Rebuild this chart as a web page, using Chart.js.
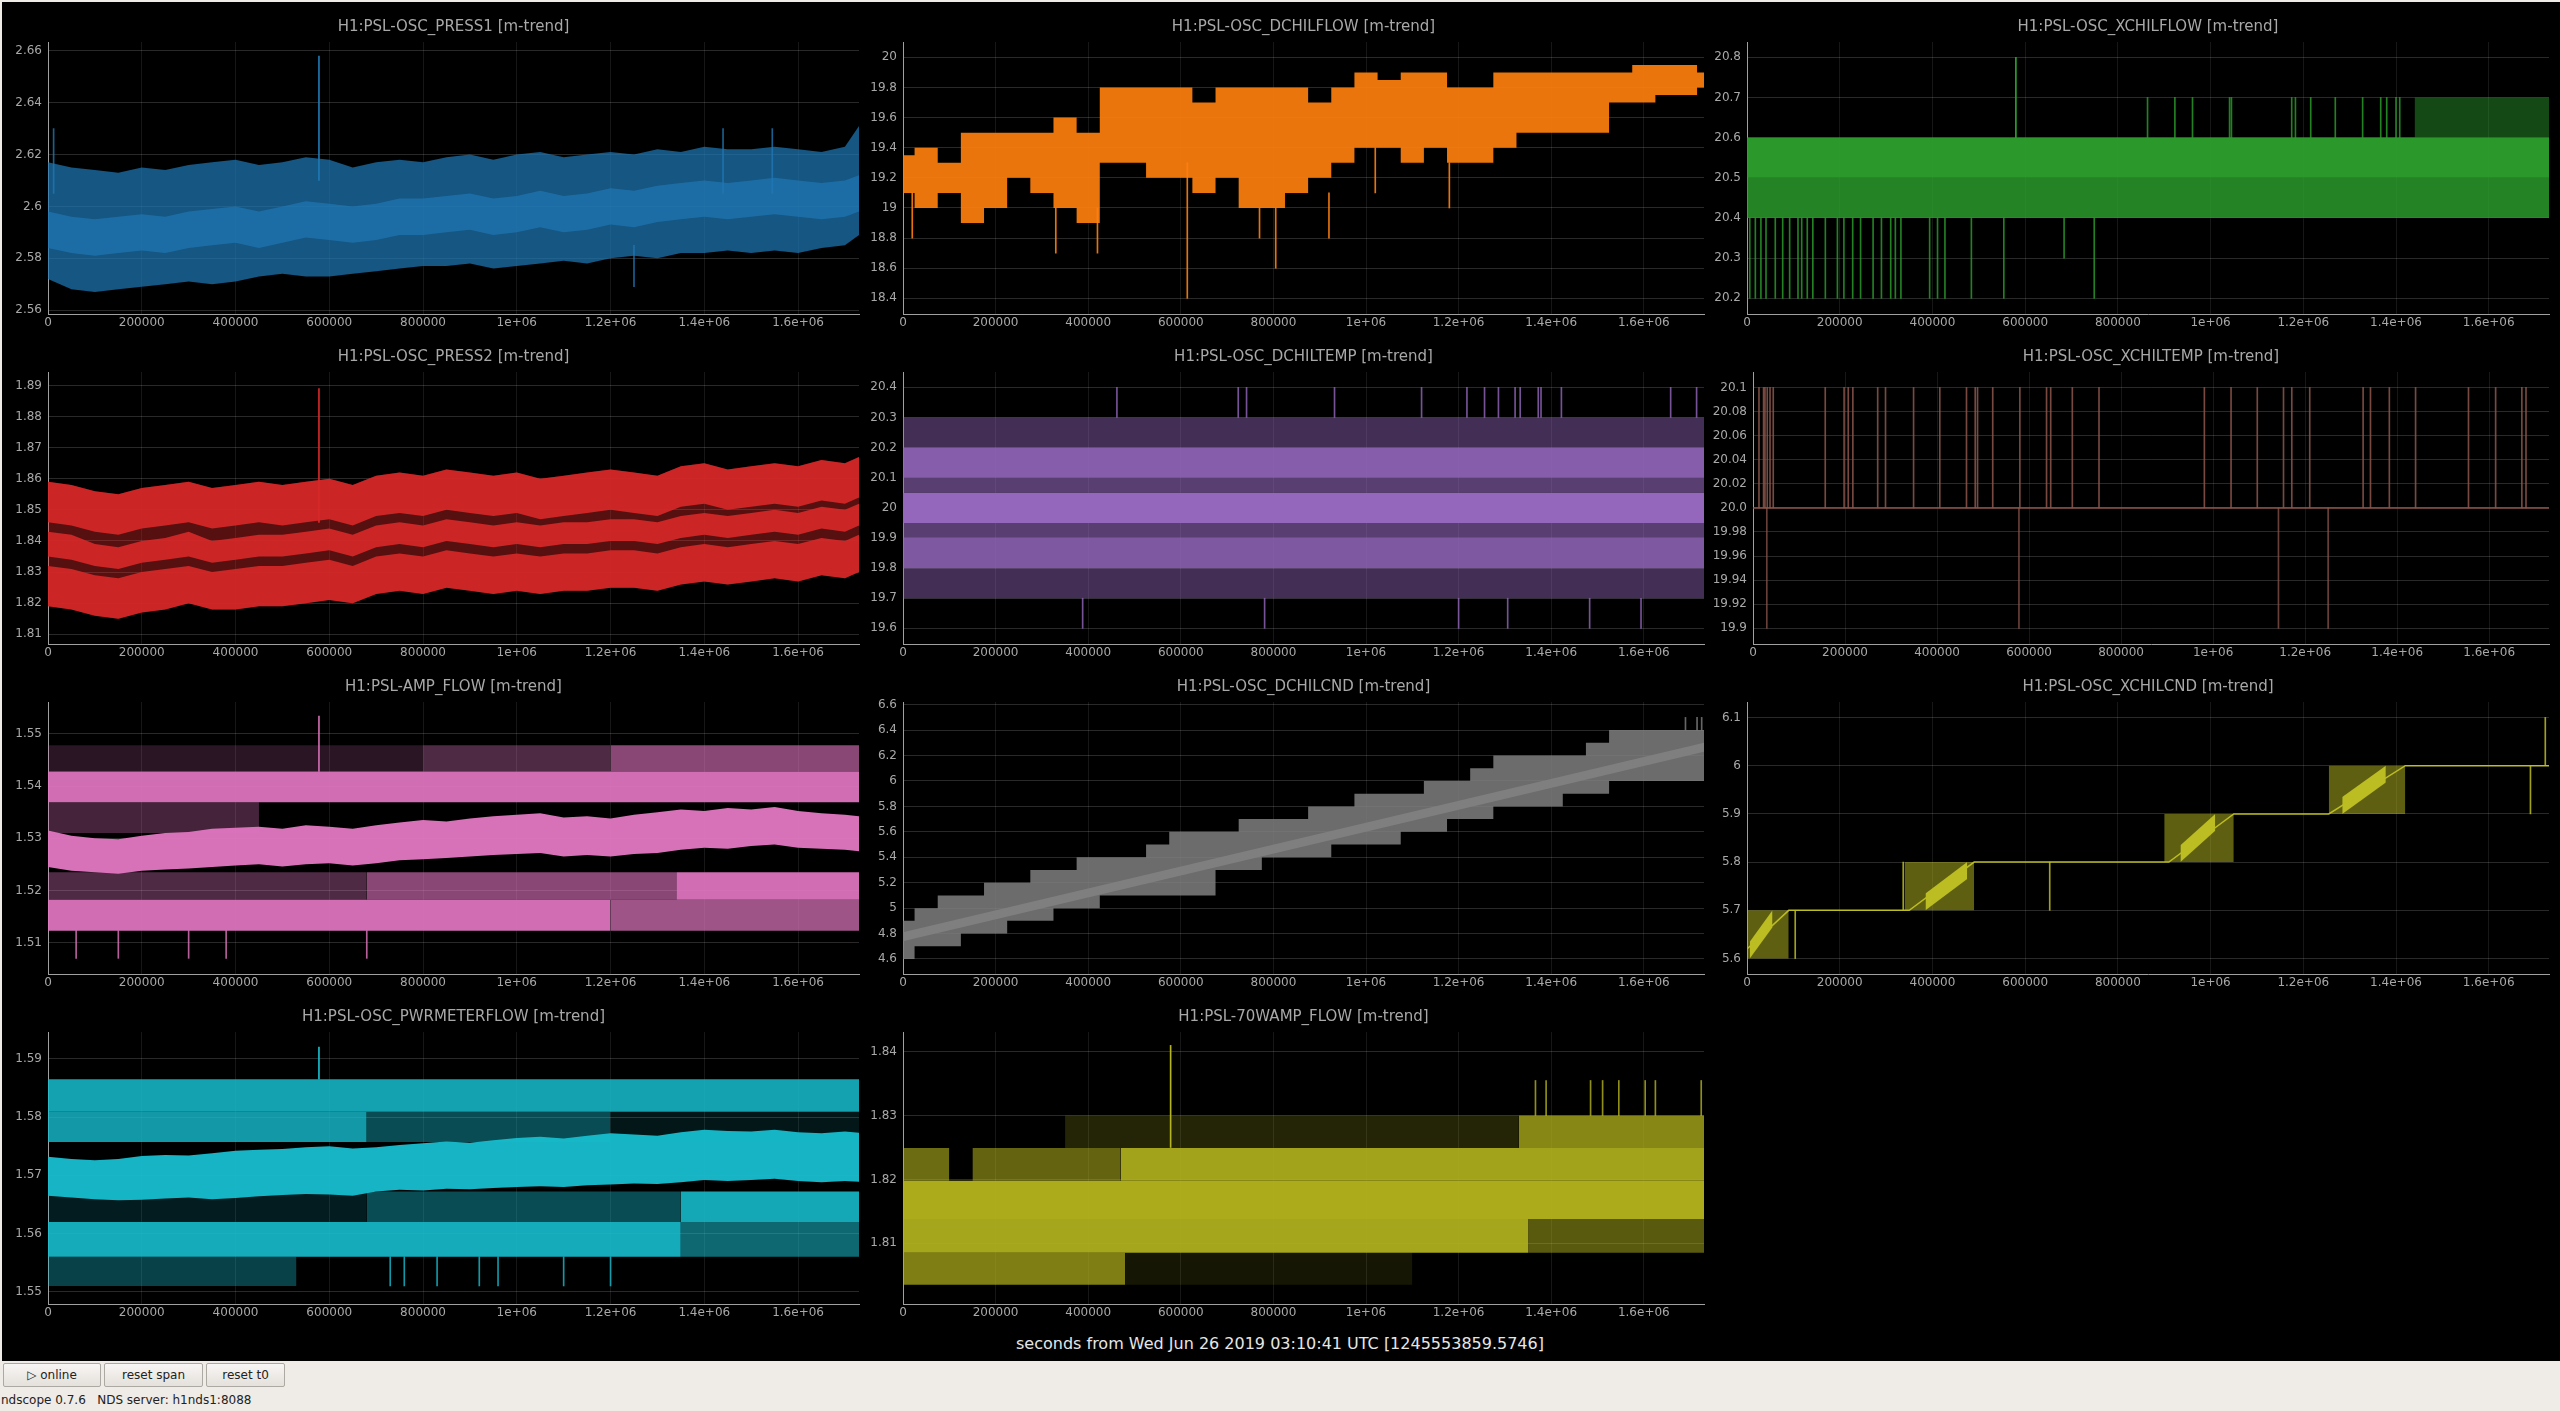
<!DOCTYPE html>
<html>
<head>
<meta charset="utf-8">
<script src="https://cdn.jsdelivr.net/npm/chart.js@4.4.1/dist/chart.umd.min.js"></script>
<style>
html, body { margin: 0; padding: 0; width: 2560px; height: 1411px; overflow: hidden; background: #efebe7; font-family: 'DejaVu Sans', sans-serif; }
#scope { position: absolute; left: 2px; top: 2px; width: 2558px; height: 1359px; background: #000; }
canvas { position: absolute; }
#xlabel { position: absolute; left: 0; top: 1334px; width: 2560px; text-align: center; color: #e6e6e6; font-size: 16px; line-height: 20px; }
.btn { position: absolute; top: 1363px; height: 22px; border: 1px solid #aca8a2; border-radius: 2px; background: linear-gradient(#f8f6f4, #e4e0db); font-size: 12px; line-height: 22px; text-align: center; color: #222; }
#status { position: absolute; left: 1px; top: 1393px; font-size: 12px; color: #222; }
</style>
</head>
<body>
<div id="scope"></div>
<div id="xlabel">seconds from Wed Jun 26 2019 03:10:41 UTC [1245553859.5746]</div>
<div class="btn" style="left:3px;width:96px;">&#9655; online</div>
<div class="btn" style="left:104px;width:97px;">reset span</div>
<div class="btn" style="left:206px;width:77px;">reset t0</div>
<div id="status">ndscope 0.7.6&nbsp;&nbsp;&nbsp;NDS server: h1nds1:8088</div>
<script>
// ---- data ----
const TIMES = [0, 50000, 100000, 150000, 200000, 250000, 300000, 350000, 400000, 450000, 500000, 550000, 600000, 650000, 700000, 750000, 800000, 850000, 900000, 950000, 1000000, 1050000, 1100000, 1150000, 1200000, 1250000, 1300000, 1350000, 1400000, 1450000, 1500000, 1550000, 1600000, 1650000, 1700000, 1730000];
const EDGE = [0, 1730000];
const X_TICKS = [0, 200000, 400000, 600000, 800000, 1000000, 1200000, 1400000, 1600000];
const X_LABELS = ['0', '200000', '400000', '600000', '800000', '1e+06', '1.2e+06', '1.4e+06', '1.6e+06'];

// PRESS1
const PRESS1_HI = [2.617, 2.615, 2.614, 2.613, 2.615, 2.614, 2.616, 2.617, 2.618, 2.616, 2.617, 2.619, 2.618, 2.615, 2.617, 2.618, 2.617, 2.619, 2.62, 2.618, 2.62, 2.621, 2.619, 2.62, 2.621, 2.62, 2.622, 2.621, 2.623, 2.622, 2.622, 2.623, 2.622, 2.621, 2.623, 2.631];
const PRESS1_LO = [2.572, 2.568, 2.567, 2.568, 2.569, 2.57, 2.571, 2.57, 2.571, 2.573, 2.574, 2.573, 2.573, 2.574, 2.575, 2.576, 2.577, 2.577, 2.578, 2.576, 2.577, 2.578, 2.579, 2.578, 2.58, 2.581, 2.58, 2.582, 2.582, 2.583, 2.582, 2.583, 2.582, 2.584, 2.585, 2.589];
const PRESS1_CORE_HI = [2.598, 2.596, 2.595, 2.596, 2.597, 2.596, 2.598, 2.599, 2.6, 2.598, 2.6, 2.602, 2.601, 2.6, 2.601, 2.603, 2.603, 2.604, 2.605, 2.603, 2.604, 2.606, 2.604, 2.605, 2.607, 2.606, 2.608, 2.609, 2.61, 2.609, 2.61, 2.611, 2.61, 2.609, 2.61, 2.612];
const PRESS1_CORE_LO = [2.584, 2.582, 2.581, 2.582, 2.583, 2.582, 2.584, 2.585, 2.586, 2.584, 2.586, 2.588, 2.587, 2.586, 2.587, 2.589, 2.589, 2.59, 2.591, 2.589, 2.59, 2.592, 2.59, 2.591, 2.593, 2.592, 2.594, 2.595, 2.596, 2.595, 2.596, 2.597, 2.596, 2.595, 2.596, 2.598];
const PRESS1_SPIKE_BIG = [578000];
const PRESS1_SPIKE_BIG_RANGE = [2.61, 2.658];
const PRESS1_SPIKE_UP = [12000, 1440000, 1545000];
const PRESS1_SPIKE_UP_RANGE = [2.605, 2.63];
const PRESS1_SPIKE_DN = [1250000];
const PRESS1_SPIKE_DN_RANGE = [2.569, 2.585];
const PRESS1_YT = [2.56, 2.58, 2.6, 2.62, 2.64, 2.66];
const PRESS1_YL = ['2.56', '2.58', '2.6', '2.62', '2.64', '2.66'];

// DCHILFLOW
const DCF_HI = [19.35, 19.4, 19.3, 19.5, 19.5, 19.5, 19.5, 19.6, 19.5, 19.8, 19.8, 19.8, 19.8, 19.7, 19.8, 19.8, 19.8, 19.8, 19.7, 19.8, 19.9, 19.85, 19.9, 19.9, 19.8, 19.8, 19.9, 19.9, 19.9, 19.9, 19.9, 19.9, 19.95, 19.95, 19.95, 19.9];
const DCF_LO = [19.1, 19.0, 19.1, 18.9, 19.0, 19.2, 19.1, 19.0, 18.9, 19.3, 19.3, 19.2, 19.2, 19.1, 19.2, 19.0, 19.0, 19.1, 19.2, 19.3, 19.4, 19.4, 19.3, 19.4, 19.3, 19.3, 19.4, 19.5, 19.5, 19.5, 19.5, 19.7, 19.7, 19.75, 19.75, 19.8];
const DCF_SPIKES = [20000, 330000, 420000, 614000, 770000, 805000, 920000, 1020000, 1180000];
const DCF_SPIKE_LO = [18.8, 18.7, 18.7, 18.4, 18.8, 18.6, 18.8, 19.1, 19.0];
const DCF_SPIKE_HI = [19.1, 19.0, 19.0, 19.3, 19.0, 19.0, 19.1, 19.4, 19.3];
const DCF_YT = [18.4, 18.6, 18.8, 19, 19.2, 19.4, 19.6, 19.8, 20];
const DCF_YL = ['18.4', '18.6', '18.8', '19', '19.2', '19.4', '19.6', '19.8', '20'];

// XCHILFLOW
const XCF_BLOCKS = [[0, 1730000, 20.5, 20.6], [0, 1730000, 20.4, 20.5], [1440000, 1730000, 20.6, 20.7]];
const XCF_LOW_SPIKES = [6000, 18000, 30000, 41000, 61000, 77000, 92000, 110000, 118000, 130000, 142000, 169000, 195000, 209000, 228000, 245000, 272000, 290000, 310000, 320000, 332000, 394000, 411000, 427000, 484000, 554000, 749000];
const XCF_LOW_RANGE = [20.2, 20.4];
const XCF_MID_SPIKES = [684000];
const XCF_MID_RANGE = [20.3, 20.4];
const XCF_HIGH_SPIKES = [864000, 923000, 961000, 1041000, 1045000, 1175000, 1183000, 1216000, 1269000, 1328000, 1367000, 1380000, 1400000, 1408000];
const XCF_HIGH_RANGE = [20.6, 20.7];
const XCF_TOP_SPIKES = [580000];
const XCF_TOP_RANGE = [20.6, 20.8];
const XCF_YT = [20.2, 20.3, 20.4, 20.5, 20.6, 20.7, 20.8];
const XCF_YL = ['20.2', '20.3', '20.4', '20.5', '20.6', '20.7', '20.8'];

// PRESS2
const PRESS2_UP_HI = [1.859, 1.858, 1.856, 1.855, 1.857, 1.858, 1.859, 1.857, 1.858, 1.859, 1.858, 1.859, 1.86, 1.858, 1.861, 1.862, 1.861, 1.863, 1.862, 1.861, 1.862, 1.86, 1.861, 1.862, 1.863, 1.862, 1.861, 1.864, 1.865, 1.863, 1.864, 1.865, 1.864, 1.866, 1.865, 1.867];
const PRESS2_UP_LO = [1.846, 1.845, 1.843, 1.842, 1.844, 1.845, 1.846, 1.844, 1.845, 1.846, 1.845, 1.846, 1.847, 1.845, 1.848, 1.849, 1.848, 1.85, 1.849, 1.848, 1.849, 1.847, 1.848, 1.849, 1.85, 1.849, 1.848, 1.851, 1.852, 1.85, 1.851, 1.852, 1.851, 1.853, 1.852, 1.854];
const PRESS2_MID_HI = [1.843, 1.842, 1.839, 1.838, 1.84, 1.841, 1.843, 1.84, 1.841, 1.842, 1.842, 1.843, 1.844, 1.842, 1.845, 1.846, 1.845, 1.847, 1.846, 1.845, 1.846, 1.845, 1.846, 1.846, 1.847, 1.847, 1.846, 1.848, 1.849, 1.848, 1.849, 1.85, 1.849, 1.851, 1.85, 1.852];
const PRESS2_MID_LO = [1.835, 1.834, 1.832, 1.831, 1.833, 1.834, 1.835, 1.833, 1.834, 1.835, 1.835, 1.836, 1.837, 1.835, 1.838, 1.839, 1.838, 1.84, 1.839, 1.838, 1.839, 1.838, 1.839, 1.839, 1.84, 1.84, 1.839, 1.841, 1.842, 1.841, 1.842, 1.843, 1.842, 1.844, 1.843, 1.845];
const PRESS2_LOW_HI = [1.832, 1.831, 1.829, 1.828, 1.83, 1.831, 1.832, 1.83, 1.831, 1.832, 1.832, 1.833, 1.834, 1.832, 1.835, 1.836, 1.835, 1.837, 1.836, 1.835, 1.836, 1.835, 1.836, 1.836, 1.837, 1.837, 1.836, 1.838, 1.839, 1.838, 1.839, 1.84, 1.839, 1.841, 1.84, 1.842];
const PRESS2_LOW_LO = [1.819, 1.818, 1.816, 1.815, 1.817, 1.818, 1.82, 1.818, 1.818, 1.819, 1.819, 1.82, 1.821, 1.82, 1.823, 1.824, 1.823, 1.825, 1.824, 1.823, 1.824, 1.823, 1.824, 1.824, 1.825, 1.825, 1.824, 1.826, 1.827, 1.826, 1.827, 1.828, 1.827, 1.829, 1.828, 1.83];
const PRESS2_SPIKES = [578000];
const PRESS2_SPIKE_RANGE = [1.846, 1.889];
const PRESS2_YT = [1.81, 1.82, 1.83, 1.84, 1.85, 1.86, 1.87, 1.88, 1.89];
const PRESS2_YL = ['1.81', '1.82', '1.83', '1.84', '1.85', '1.86', '1.87', '1.88', '1.89'];

// DCHILTEMP
const DCT_BLOCKS = [[0, 1730000, 20.2, 20.3], [0, 1730000, 20.1, 20.2], [0, 1730000, 20.05, 20.1], [0, 1730000, 19.95, 20.05], [0, 1730000, 19.9, 19.95], [0, 1730000, 19.8, 19.9], [0, 1730000, 19.7, 19.8]];
const DCT_UP_SPIKES = [462000, 724000, 742000, 932000, 1120000, 1218000, 1256000, 1286000, 1322000, 1333000, 1372000, 1378000, 1422000, 1658000, 1714000];
const DCT_UP_RANGE = [20.3, 20.4];
const DCT_DN_SPIKES = [388000, 781000, 1200000, 1306000, 1483000, 1594000];
const DCT_DN_RANGE = [19.6, 19.7];
const DCT_YT = [19.6, 19.7, 19.8, 19.9, 20, 20.1, 20.2, 20.3, 20.4];
const DCT_YL = ['19.6', '19.7', '19.8', '19.9', '20', '20.1', '20.2', '20.3', '20.4'];

// XCHILTEMP
const XCT_BASE = [20.0, 20.0];
const XCT_UP_SPIKES = [13000, 23000, 26000, 31000, 37000, 44000, 157000, 198000, 207000, 217000, 271000, 288000, 349000, 406000, 464000, 483000, 488000, 521000, 580000, 638000, 647000, 694000, 752000, 981000, 1039000, 1096000, 1153000, 1171000, 1210000, 1326000, 1342000, 1383000, 1440000, 1555000, 1614000, 1671000, 1680000];
const XCT_UP_RANGE = [20.0, 20.1];
const XCT_DN_SPIKES = [30000, 578000, 1142000, 1250000];
const XCT_DN_RANGE = [19.9, 20.0];
const XCT_YT = [19.9, 19.92, 19.94, 19.96, 19.98, 20.0, 20.02, 20.04, 20.06, 20.08, 20.1];
const XCT_YL = ['19.9', '19.92', '19.94', '19.96', '19.98', '20.0', '20.02', '20.04', '20.06', '20.08', '20.1'];

// AMP_FLOW
const AMP_HI = [1.5315, 1.5305, 1.53, 1.5298, 1.5305, 1.531, 1.5312, 1.5318, 1.532, 1.5322, 1.5318, 1.5325, 1.5322, 1.5318, 1.5325, 1.533, 1.5335, 1.5332, 1.5338, 1.5342, 1.5345, 1.5348, 1.534, 1.5342, 1.5338, 1.5345, 1.535, 1.5355, 1.5352, 1.5358, 1.5355, 1.536, 1.5352, 1.5348, 1.5345, 1.5342];
const AMP_LO = [1.5245, 1.5238, 1.5235, 1.5232, 1.5238, 1.524, 1.5242, 1.5245, 1.5248, 1.525, 1.5246, 1.525, 1.5252, 1.5248, 1.5252, 1.5258, 1.526, 1.5262, 1.5265, 1.5268, 1.527, 1.5272, 1.5265, 1.5268, 1.5265, 1.527, 1.5272, 1.5278, 1.5282, 1.528, 1.5285, 1.5288, 1.5282, 1.528, 1.5278, 1.5275];
const AMP_BLOCKS = [[0, 1730000, 1.5369, 1.5428], [0, 800000, 1.5428, 1.5478], [800000, 1200000, 1.5428, 1.5478], [1200000, 1730000, 1.5428, 1.5478], [0, 450000, 1.531, 1.5369], [0, 680000, 1.5182, 1.5235], [680000, 1340000, 1.5182, 1.5235], [1340000, 1730000, 1.5182, 1.5235], [0, 1200000, 1.5123, 1.5182], [1200000, 1730000, 1.5123, 1.5182]];
const AMP_DN_SPIKES = [60000, 150000, 300000, 380000, 680000];
const AMP_DN_RANGE = [1.507, 1.5123];
const AMP_UP_SPIKES = [578000];
const AMP_UP_RANGE = [1.5428, 1.5534];
const AMP_YT = [1.51, 1.52, 1.53, 1.54, 1.55];
const AMP_YL = ['1.51', '1.52', '1.53', '1.54', '1.55'];

// DCHILCND
const DCC_UP = [4.9, 5.0, 5.1, 5.1, 5.2, 5.2, 5.3, 5.3, 5.4, 5.4, 5.4, 5.5, 5.6, 5.6, 5.6, 5.7, 5.7, 5.7, 5.8, 5.8, 5.9, 5.9, 5.9, 6.0, 6.0, 6.1, 6.2, 6.2, 6.2, 6.2, 6.3, 6.4, 6.4, 6.4, 6.4, 6.4];
const DCC_DOWN = [4.6, 4.7, 4.7, 4.8, 4.8, 4.9, 4.9, 5.0, 5.0, 5.1, 5.1, 5.1, 5.1, 5.1, 5.3, 5.3, 5.4, 5.4, 5.4, 5.5, 5.5, 5.5, 5.6, 5.6, 5.7, 5.7, 5.8, 5.8, 5.8, 5.9, 5.9, 6.0, 6.0, 6.0, 6.0, 6.0];
const DCC_MEAN_HI = [4.81, 6.3];
const DCC_MEAN_LO = [4.74, 6.23];
const DCC_SPIKES = [1690000, 1715000, 1725000];
const DCC_SPIKE_RANGE = [6.4, 6.5];
const DCC_YT = [4.6, 4.8, 5, 5.2, 5.4, 5.6, 5.8, 6, 6.2, 6.4, 6.6];
const DCC_YL = ['4.6', '4.8', '5', '5.2', '5.4', '5.6', '5.8', '6', '6.2', '6.4', '6.6'];

// XCHILCND
const XCC_LEVEL_X = [0, 90000, 350000, 490000, 910000, 1050000, 1255000, 1420000, 1730000];
const XCC_LEVEL_Y = [5.62, 5.7, 5.7, 5.8, 5.8, 5.9, 5.9, 6.0, 6.0];
const XCC_BLOCKS = [[0, 90000, 5.6, 5.7], [340000, 490000, 5.7, 5.8], [900000, 1050000, 5.8, 5.9], [1255000, 1420000, 5.9, 6.0]];
const XCC_RAMPS = [[6000, 55000, 5.6, 5.7], [385000, 475000, 5.7, 5.8], [935000, 1010000, 5.8, 5.9], [1284000, 1378000, 5.9, 6.0]];
const XCC_SPIKES = [104000, 337000, 653000, 1690000, 1722000];
const XCC_SPIKE_LO = [5.6, 5.7, 5.7, 5.9, 6.0];
const XCC_SPIKE_HI = [5.7, 5.8, 5.8, 6.0, 6.1];
const XCC_YT = [5.6, 5.7, 5.8, 5.9, 6, 6.1];
const XCC_YL = ['5.6', '5.7', '5.8', '5.9', '6', '6.1'];

// PWRMETERFLOW
const PWR_HI = [1.5732, 1.5728, 1.5726, 1.5728, 1.5733, 1.5735, 1.5734, 1.5738, 1.5742, 1.5744, 1.5745, 1.5748, 1.575, 1.5746, 1.5748, 1.5752, 1.5755, 1.5758, 1.5756, 1.576, 1.5764, 1.5766, 1.5763, 1.5768, 1.5772, 1.577, 1.5768, 1.5774, 1.5778, 1.5776, 1.5775, 1.5778, 1.5774, 1.5772, 1.5775, 1.5773];
const PWR_LO = [1.5665, 1.5662, 1.5659, 1.5657, 1.5658, 1.566, 1.5662, 1.5659, 1.5661, 1.5664, 1.5666, 1.5668, 1.5667, 1.5665, 1.5672, 1.5675, 1.5674, 1.5677, 1.5676, 1.5678, 1.568, 1.5681, 1.568, 1.5683, 1.5684, 1.5686, 1.5685, 1.5688, 1.5692, 1.569, 1.5692, 1.5694, 1.569, 1.5688, 1.569, 1.5689];
const PWR_BLOCKS = [[0, 1730000, 1.5809, 1.5865], [0, 680000, 1.5757, 1.5809], [680000, 1200000, 1.5757, 1.5809], [1200000, 1730000, 1.5757, 1.5809], [0, 680000, 1.562, 1.5672], [680000, 1350000, 1.562, 1.5672], [1350000, 1730000, 1.562, 1.5672], [0, 1350000, 1.556, 1.562], [1350000, 1730000, 1.556, 1.562], [0, 530000, 1.551, 1.556]];
const PWR_UP_SPIKES = [578000];
const PWR_UP_RANGE = [1.5865, 1.592];
const PWR_DN_SPIKES = [730000, 760000, 830000, 920000, 960000, 1100000, 1200000];
const PWR_DN_RANGE = [1.551, 1.556];
const PWR_YT = [1.55, 1.56, 1.57, 1.58, 1.59];
const PWR_YL = ['1.55', '1.56', '1.57', '1.58', '1.59'];

// 70WAMP_FLOW
const W70_BLOCKS = [[350000, 1330000, 1.8249, 1.83], [1330000, 1730000, 1.8249, 1.83], [0, 100000, 1.8198, 1.8249], [150000, 470000, 1.8198, 1.8249], [470000, 1730000, 1.8198, 1.8249], [0, 1730000, 1.8138, 1.8198], [0, 1350000, 1.8085, 1.8138], [1350000, 1730000, 1.8085, 1.8138], [0, 480000, 1.8035, 1.8085], [480000, 1100000, 1.8035, 1.8085]];
const W70_BIG_SPIKES = [578000];
const W70_BIG_RANGE = [1.825, 1.841];
const W70_UP_SPIKES = [1366000, 1389000, 1485000, 1511000, 1546000, 1603000, 1625000, 1724000];
const W70_UP_RANGE = [1.83, 1.8355];
const W70_YT = [1.81, 1.82, 1.83, 1.84];
const W70_YL = ['1.81', '1.82', '1.83', '1.84'];

// ---- drawing ----
const TAB = { blue: '#1f77b4', orange: '#ff7f0e', green: '#2ca02c', red: '#d62728', purple: '#9467bd', brown: '#8c564b', pink: '#e377c2', gray: '#7f7f7f', olive: '#bcbd22', cyan: '#17becf', olive2: '#b4b41e' };

function rgba(hex, a) {
  const n = parseInt(hex.slice(1), 16);
  return 'rgba(' + (n >> 16) + ',' + ((n >> 8) & 255) + ',' + (n & 255) + ',' + a + ')';
}
// filled area between an upper and a lower edge
function band(xs, hi, lo, color, a, stepped) {
  const common = { type: 'line', borderColor: 'rgba(0,0,0,0)', backgroundColor: rgba(color, a), borderWidth: 0, pointRadius: 0, tension: 0, stepped: stepped || false };
  return [
    Object.assign({}, common, { data: xs.map((x, i) => ({ x: x, y: hi[i] })), fill: '+1' }),
    Object.assign({}, common, { data: xs.map((x, i) => ({ x: x, y: lo[i] })), fill: false })
  ];
}
function blocks(list, alphas, color) {
  return list.flatMap((b, i) => band([b[0], b[1]], [b[3], b[3]], [b[2], b[2]], color, alphas[i]));
}
function spikes(xs, lo, hi, color, a) {
  return {
    type: 'bar', grouped: false, barThickness: 1, backgroundColor: rgba(color, a),
    data: xs.map((x, i) => ({ x: x, y: [Array.isArray(lo) ? lo[i] : lo, Array.isArray(hi) ? hi[i] : hi] }))
  };
}
function trace(xs, ys, color, w) {
  return { type: 'line', data: xs.map((x, i) => ({ x: x, y: ys[i] })), borderColor: color, borderWidth: w, pointRadius: 0, fill: false, tension: 0 };
}

const RAMP = 0.035;
const PANELS = [
  { title: 'H1:PSL-OSC_PRESS1 [m-trend]', col: 0, row: 0, y: [2.5585, 2.6634], yt: PRESS1_YT, yl: PRESS1_YL,
    sets: () => [
      ...band(TIMES, PRESS1_CORE_HI, PRESS1_CORE_LO, TAB.blue, 0.7),
      ...band(TIMES, PRESS1_HI, PRESS1_LO, TAB.blue, 0.72),
      spikes(PRESS1_SPIKE_BIG, PRESS1_SPIKE_BIG_RANGE[0], PRESS1_SPIKE_BIG_RANGE[1], TAB.blue, 1),
      spikes(PRESS1_SPIKE_UP, PRESS1_SPIKE_UP_RANGE[0], PRESS1_SPIKE_UP_RANGE[1], TAB.blue, 0.8),
      spikes(PRESS1_SPIKE_DN, PRESS1_SPIKE_DN_RANGE[0], PRESS1_SPIKE_DN_RANGE[1], TAB.blue, 0.8)
    ] },
  { title: 'H1:PSL-OSC_DCHILFLOW [m-trend]', col: 1, row: 0, y: [18.296, 20.102], yt: DCF_YT, yl: DCF_YL,
    sets: () => [
      ...band(TIMES, DCF_HI, DCF_LO, TAB.orange, 0.92, 'middle'),
      spikes(DCF_SPIKES, DCF_SPIKE_LO, DCF_SPIKE_HI, TAB.orange, 0.9)
    ] },
  { title: 'H1:PSL-OSC_XCHILFLOW [m-trend]', col: 2, row: 0, y: [20.161, 20.838], yt: XCF_YT, yl: XCF_YL,
    sets: () => [
      ...blocks(XCF_BLOCKS, [0.95, 0.82, 0.45], TAB.green),
      spikes(XCF_LOW_SPIKES, XCF_LOW_RANGE[0], XCF_LOW_RANGE[1], TAB.green, 0.8),
      spikes(XCF_MID_SPIKES, XCF_MID_RANGE[0], XCF_MID_RANGE[1], TAB.green, 0.8),
      spikes(XCF_HIGH_SPIKES, XCF_HIGH_RANGE[0], XCF_HIGH_RANGE[1], TAB.green, 0.8),
      spikes(XCF_TOP_SPIKES, XCF_TOP_RANGE[0], XCF_TOP_RANGE[1], TAB.green, 1)
    ] },
  { title: 'H1:PSL-OSC_PRESS2 [m-trend]', col: 0, row: 1, y: [1.8069, 1.8943], yt: PRESS2_YT, yl: PRESS2_YL,
    sets: () => [
      ...band(TIMES, PRESS2_UP_HI, PRESS2_UP_LO, TAB.red, 0.92),
      ...band(TIMES, PRESS2_MID_HI, PRESS2_MID_LO, TAB.red, 0.92),
      ...band(TIMES, PRESS2_LOW_HI, PRESS2_LOW_LO, TAB.red, 0.92),
      ...band(TIMES, PRESS2_UP_HI, PRESS2_LOW_LO, TAB.red, 0.4),
      spikes(PRESS2_SPIKES, PRESS2_SPIKE_RANGE[0], PRESS2_SPIKE_RANGE[1], TAB.red, 1)
    ] },
  { title: 'H1:PSL-OSC_DCHILTEMP [m-trend]', col: 1, row: 1, y: [19.548, 20.451], yt: DCT_YT, yl: DCT_YL,
    sets: () => [
      ...blocks(DCT_BLOCKS, [0.45, 0.9, 0.6, 1, 0.6, 0.85, 0.45], TAB.purple),
      spikes(DCT_UP_SPIKES, DCT_UP_RANGE[0], DCT_UP_RANGE[1], TAB.purple, 0.8),
      spikes(DCT_DN_SPIKES, DCT_DN_RANGE[0], DCT_DN_RANGE[1], TAB.purple, 0.8)
    ] },
  { title: 'H1:PSL-OSC_XCHILTEMP [m-trend]', col: 2, row: 1, axisW: 46, y: [19.887, 20.1128], yt: XCT_YT, yl: XCT_YL,
    sets: () => [
      trace(EDGE, XCT_BASE, TAB.brown, 1.5),
      spikes(XCT_UP_SPIKES, XCT_UP_RANGE[0], XCT_UP_RANGE[1], TAB.brown, 0.85),
      spikes(XCT_DN_SPIKES, XCT_DN_RANGE[0], XCT_DN_RANGE[1], TAB.brown, 0.75)
    ] },
  { title: 'H1:PSL-AMP_FLOW [m-trend]', col: 0, row: 2, y: [1.504, 1.5561], yt: AMP_YT, yl: AMP_YL,
    sets: () => [
      ...band(TIMES, AMP_HI, AMP_LO, TAB.pink, 0.95),
      ...blocks(AMP_BLOCKS, [0.92, 0.18, 0.35, 0.6, 0.3, 0.35, 0.6, 0.92, 0.92, 0.7], TAB.pink),
      spikes(AMP_DN_SPIKES, AMP_DN_RANGE[0], AMP_DN_RANGE[1], TAB.pink, 0.8),
      spikes(AMP_UP_SPIKES, AMP_UP_RANGE[0], AMP_UP_RANGE[1], TAB.pink, 0.9)
    ] },
  { title: 'H1:PSL-OSC_DCHILCND [m-trend]', col: 1, row: 2, y: [4.482, 6.621], yt: DCC_YT, yl: DCC_YL,
    sets: () => [
      ...band(EDGE, DCC_MEAN_HI, DCC_MEAN_LO, TAB.gray, 1),
      ...band(TIMES, DCC_UP, DCC_DOWN, TAB.gray, 0.85, 'middle'),
      spikes(DCC_SPIKES, DCC_SPIKE_RANGE[0], DCC_SPIKE_RANGE[1], TAB.gray, 0.8)
    ] },
  { title: 'H1:PSL-OSC_XCHILCND [m-trend]', col: 2, row: 2, y: [5.568, 6.132], yt: XCC_YT, yl: XCC_YL,
    sets: () => [
      trace(XCC_LEVEL_X, XCC_LEVEL_Y, TAB.olive, 1.5),
      ...XCC_RAMPS.flatMap(r => band([r[0], r[1]], [r[2] + RAMP, r[3]], [r[2], r[3] - RAMP], TAB.olive, 1)),
      ...blocks(XCC_BLOCKS, [0.5, 0.5, 0.5, 0.5], TAB.olive),
      spikes(XCC_SPIKES, XCC_SPIKE_LO, XCC_SPIKE_HI, TAB.olive, 0.85)
    ] },
  { title: 'H1:PSL-OSC_PWRMETERFLOW [m-trend]', col: 0, row: 3, y: [1.5479, 1.5946], yt: PWR_YT, yl: PWR_YL,
    sets: () => [
      ...band(TIMES, PWR_HI, PWR_LO, TAB.cyan, 0.95),
      ...blocks(PWR_BLOCKS, [0.85, 0.8, 0.4, 0.12, 0.15, 0.4, 0.88, 0.9, 0.55, 0.35], TAB.cyan),
      spikes(PWR_UP_SPIKES, PWR_UP_RANGE[0], PWR_UP_RANGE[1], TAB.cyan, 1),
      spikes(PWR_DN_SPIKES, PWR_DN_RANGE[0], PWR_DN_RANGE[1], TAB.cyan, 0.8)
    ] },
  { title: 'H1:PSL-70WAMP_FLOW [m-trend]', col: 1, row: 3, y: [1.80047, 1.8431], yt: W70_YT, yl: W70_YL,
    sets: () => [
      ...blocks(W70_BLOCKS, [0.2, 0.75, 0.6, 0.55, 0.9, 0.95, 0.92, 0.5, 0.7, 0.12], TAB.olive2),
      spikes(W70_BIG_SPIKES, W70_BIG_RANGE[0], W70_BIG_RANGE[1], TAB.olive2, 1),
      spikes(W70_UP_SPIKES, W70_UP_RANGE[0], W70_UP_RANGE[1], TAB.olive2, 0.8)
    ] }
];

const COLS = [
  { left: 0, width: 862, axisW: 48, pad: 3 },
  { left: 862, width: 845, axisW: 41, pad: 3 },
  { left: 1707, width: 853, axisW: 40, pad: 11 }
];
const ROW_TOP = [0, 330, 660, 990];
const TXT = '#a8a8a8';

Chart.defaults.font.family = "'DejaVu Sans', sans-serif";

PANELS.forEach(p => {
  const col = COLS[p.col];
  const cv = document.createElement('canvas');
  cv.width = col.width;
  cv.height = 330;
  cv.style.left = col.left + 'px';
  cv.style.top = ROW_TOP[p.row] + 'px';
  cv.style.width = col.width + 'px';
  cv.style.height = '330px';
  document.body.appendChild(cv);
  const axisW = p.axisW || col.axisW;
  new Chart(cv, {
    type: 'line',
    data: { datasets: p.sets() },
    options: {
      animation: false,
      responsive: false,
      devicePixelRatio: 1,
      events: [],
      layout: { padding: { left: 0, right: col.pad, top: 0, bottom: 0 } },
      plugins: {
        legend: { display: false },
        tooltip: { enabled: false },
        title: { display: true, text: p.title, color: TXT, fullSize: false,
                 font: { size: 15, weight: 'normal' }, padding: { top: 18, bottom: 6 } }
      },
      scales: {
        x: {
          type: 'linear', min: 0, max: 1730000, offset: false,
          grid: { color: 'rgba(255,255,255,0.09)', drawTicks: false, offset: false },
          border: { color: '#a0a0a0', width: 1 },
          ticks: { color: TXT, font: { size: 12 }, padding: 2, maxRotation: 0, autoSkip: false,
                   callback: (v, i) => X_LABELS[i] },
          afterBuildTicks: s => { s.ticks = X_TICKS.map(v => ({ value: v })); },
          afterFit: s => { s.height = 16; }
        },
        y: {
          type: 'linear', min: p.y[0], max: p.y[1], beginAtZero: false,
          grid: { color: 'rgba(255,255,255,0.16)', drawTicks: false },
          border: { color: '#a0a0a0', width: 1 },
          ticks: { color: TXT, font: { size: 12 }, padding: 6, autoSkip: false,
                   callback: (v, i) => p.yl[i] },
          afterBuildTicks: s => { s.ticks = p.yt.map(v => ({ value: v })); },
          afterFit: s => { s.width = axisW; }
        }
      }
    }
  });
});
</script>
</body>
</html>
